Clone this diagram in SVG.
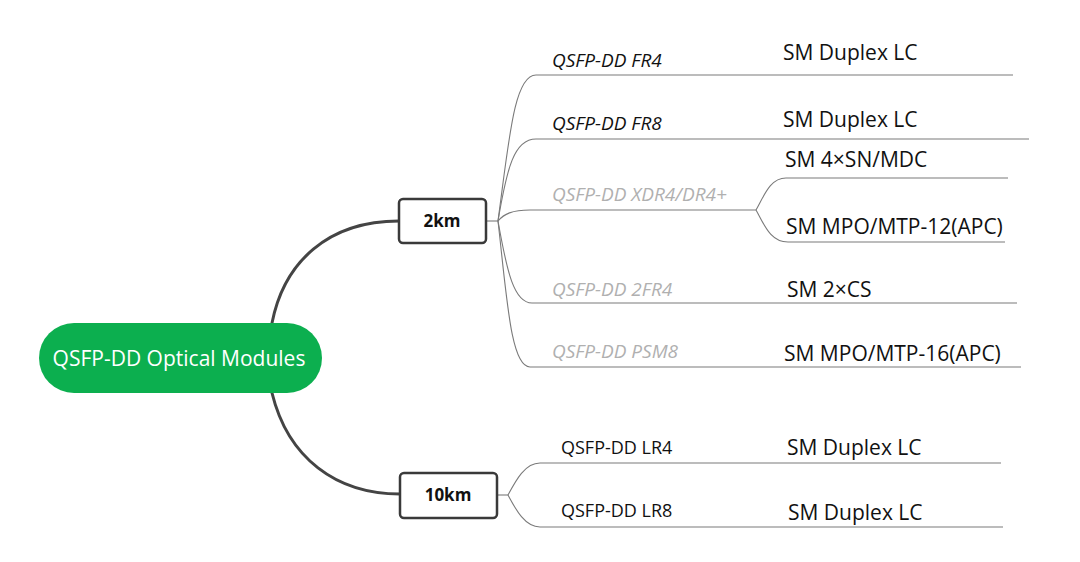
<svg xmlns="http://www.w3.org/2000/svg" width="1080" height="562" viewBox="0 0 1080 562">
<style>
.bg{fill:#ffffff}
.trunk{fill:none;stroke:#444;stroke-width:3;stroke-linecap:round}
.thin{fill:none;stroke:#7a7a7a;stroke-width:1.1}
.box{fill:#fff;stroke:#3a3a3a;stroke-width:2.5}
.boxt{font-family:"Open Sans","Noto Sans",sans-serif;font-size:17px;font-weight:700;fill:#111;text-anchor:middle}
.root{fill:#0caf4f}
.roott{font-family:"Open Sans","Noto Sans",sans-serif;font-size:21px;fill:#fff;text-anchor:middle}
.lab{font-family:"Open Sans","Noto Sans",sans-serif;font-size:19px;font-style:italic;fill:#111}
.labg{font-family:"Open Sans","Noto Sans",sans-serif;font-size:19px;font-style:italic;fill:#b0b0b0}
.labu{font-family:"Open Sans","Noto Sans",sans-serif;font-size:18px;fill:#111}
.sm{font-family:"Open Sans","Noto Sans",sans-serif;font-size:21px;fill:#111}
</style>
<rect class="bg" x="0" y="0" width="1080" height="562"/>
<g id="connectors">
<path class="trunk" d="M272 323 C284 262,328 221,399 221"/>
<path class="trunk" d="M272 393 C288 458,336 494,400 494"/>
<path class="thin" d="M486 221 L498 221"/>
<path class="thin" d="M498 221 C509 140,514 75,536 75 L1013 75"/>
<path class="thin" d="M498 221 C507 168,514 139,536 139 L1029 139"/>
<path class="thin" d="M498 221 C504 214,512 210,530 210 L756 210"/>
<path class="thin" d="M756 210 C764 196,770 178,786 178 L1008 178"/>
<path class="thin" d="M756 210 C764 224,770 242,788 242 L1005 242"/>
<path class="thin" d="M498 221 C507 272,514 303,532 303 L1017 303"/>
<path class="thin" d="M498 221 C507 300,511 367,530 367 L1021 367"/>
<path class="thin" d="M497 495 L508 495"/>
<path class="thin" d="M508 495 C516 480,525 463,540 463 L1001 463"/>
<path class="thin" d="M508 495 C516 510,525 527,540 527 L1003 527"/>
</g>
<g id="node-root">
<rect class="root" x="39" y="323" width="283" height="70" rx="35"/>
<text class="roott" x="179" y="366">QSFP-DD Optical Modules</text>
</g>
<g id="node-2km">
<rect class="box" x="399" y="199" width="87" height="44" rx="4"/>
<text class="boxt" x="442" y="227">2km</text>
</g>
<g id="node-10km">
<rect class="box" x="400" y="473" width="97" height="45" rx="4"/>
<text class="boxt" x="448" y="501">10km</text>
</g>
<g id="node-fr4">
<text class="lab" x="552" y="67">QSFP-DD FR4</text>
<text class="sm" x="783" y="60">SM Duplex LC</text>
</g>
<g id="node-fr8">
<text class="lab" x="552" y="130">QSFP-DD FR8</text>
<text class="sm" x="783" y="127">SM Duplex LC</text>
</g>
<g id="node-xdr4">
<text class="labg" x="552" y="201">QSFP-DD XDR4/DR4+</text>
<text class="sm" x="785" y="167">SM 4×SN/MDC</text>
<text class="sm" x="786" y="234">SM MPO/MTP-12(APC)</text>
</g>
<g id="node-2fr4">
<text class="labg" x="552" y="296">QSFP-DD 2FR4</text>
<text class="sm" x="787" y="297">SM 2×CS</text>
</g>
<g id="node-psm8">
<text class="labg" x="552" y="358">QSFP-DD PSM8</text>
<text class="sm" x="784" y="361">SM MPO/MTP-16(APC)</text>
</g>
<g id="node-lr4">
<text class="labu" x="561" y="454">QSFP-DD LR4</text>
<text class="sm" x="787" y="455">SM Duplex LC</text>
</g>
<g id="node-lr8">
<text class="labu" x="561" y="517">QSFP-DD LR8</text>
<text class="sm" x="788" y="520">SM Duplex LC</text>
</g>
</svg>
